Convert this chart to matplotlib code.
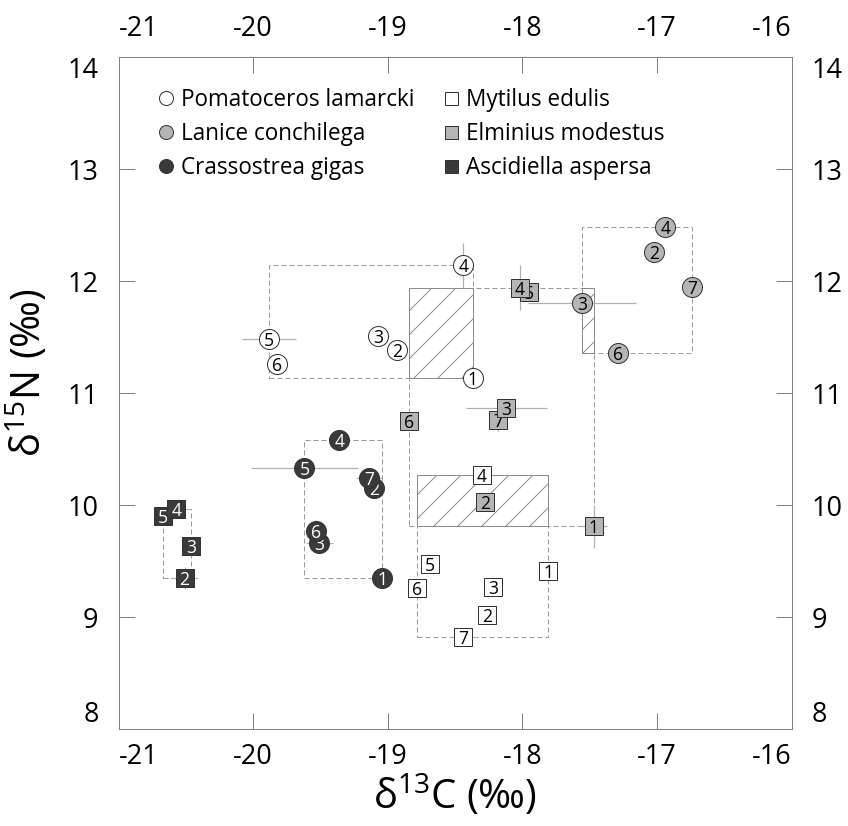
import matplotlib
matplotlib.use("Agg")
import matplotlib.pyplot as plt
from matplotlib.lines import Line2D
from matplotlib.patches import Rectangle

plt.rcParams['font.family'] = ['Open Sans', 'DejaVu Sans']
plt.rcParams['mathtext.fontset'] = 'custom'
plt.rcParams['mathtext.rm'] = 'Open Sans'
plt.rcParams['mathtext.it'] = 'Open Sans'
plt.rcParams['mathtext.default'] = 'regular'
plt.rcParams['hatch.linewidth'] = 1.0
plt.rcParams['hatch.color'] = '#8c8c8c'

# --- data (d13C, d15N means, with error half-widths) ---
pom_id = [1, 2, 3, 4, 5, 6]
pom_x = [-18.37, -18.93, -19.07, -18.44, -19.88, -19.82]
pom_y = [11.13, 11.38, 11.51, 12.14, 11.48, 11.26]
pom_xerr = [0, 0, 0.08, 0, 0.2, 0]
pom_yerr = [0, 0, 0, 0.2, 0, 0]

lan_id = [2, 3, 4, 6, 7]
lan_x = [-17.02, -17.56, -16.94, -17.29, -16.74]
lan_y = [12.26, 11.80, 12.48, 11.36, 11.95]
lan_xerr = [0, 0.4, 0, 0, 0]
lan_yerr = [0, 0, 0, 0, 0]

cra_id = [1, 2, 3, 4, 5, 6, 7]
cra_x = [-19.04, -19.10, -19.51, -19.36, -19.62, -19.53, -19.14]
cra_y = [9.35, 10.15, 9.66, 10.58, 10.33, 9.77, 10.24]
cra_xerr = [0, 0, 0.1, 0, 0.4, 0, 0.1]
cra_yerr = [0, 0, 0, 0, 0, 0.1, 0]

myt_id = [1, 2, 3, 4, 5, 6, 7]
myt_x = [-17.81, -18.26, -18.22, -18.30, -18.69, -18.78, -18.44]
myt_y = [9.41, 9.02, 9.27, 10.27, 9.47, 9.26, 8.82]
myt_xerr = [0, 0, 0, 0.05, 0, 0, 0.1]
myt_yerr = [0, 0, 0, 0, 0, 0, 0]

elm_id = [1, 2, 3, 4, 5, 6, 7]
elm_x = [-17.47, -18.28, -18.12, -18.02, -17.95, -18.84, -18.18]
elm_y = [9.81, 10.03, 10.87, 11.94, 11.90, 10.75, 10.76]
elm_xerr = [0.1, 0.05, 0.3, 0, 0, 0, 0]
elm_yerr = [0.19, 0.05, 0, 0.2, 0, 0, 0.1]

asc_id = [2, 3, 4, 5]
asc_x = [-20.51, -20.46, -20.57, -20.67]
asc_y = [9.35, 9.63, 9.96, 9.90]
asc_xerr = [0.1, 0, 0.1, 0]
asc_yerr = [0.1, 0, 0, 0]

xticks = [-21, -20, -19, -18, -17, -16]
yticks = [8, 9, 10, 11, 12, 13, 14]

# name, ids, x, y, xerr, yerr, marker, face, text colour
species = [
    ("Pomatoceros lamarcki", pom_id, pom_x, pom_y, pom_xerr, pom_yerr, 'o', 'white', 'black'),
    ("Lanice conchilega", lan_id, lan_x, lan_y, lan_xerr, lan_yerr, 'o', '#b5b5b5', 'black'),
    ("Crassostrea gigas", cra_id, cra_x, cra_y, cra_xerr, cra_yerr, 'o', '#3a3a3a', 'white'),
    ("Mytilus edulis", myt_id, myt_x, myt_y, myt_xerr, myt_yerr, 's', 'white', 'black'),
    ("Elminius modestus", elm_id, elm_x, elm_y, elm_xerr, elm_yerr, 's', '#b5b5b5', 'black'),
    ("Ascidiella aspersa", asc_id, asc_x, asc_y, asc_xerr, asc_yerr, 's', '#3a3a3a', 'white'),
]

W, H = 848, 826
fig = plt.figure(figsize=(W / 72, H / 72), dpi=72)
ax = fig.add_axes([118.6 / W, (H - 729) / H, (791.7 - 118.6) / W, (729 - 57) / H])

# range boxes (dashed) for every species
boxes = []
for s in species:
    x0, x1 = min(s[2]), max(s[2])
    y0, y1 = min(s[3]), max(s[3])
    boxes.append((x0, x1, y0, y1))
    ax.add_patch(Rectangle((x0, y0), x1 - x0, y1 - y0, fill=False, ec='#9a9a9a',
                           lw=1, ls=(0, (5, 3)), zorder=1))

# hatched overlap between boxes
for i in range(len(boxes)):
    for j in range(i + 1, len(boxes)):
        a, b = boxes[i], boxes[j]
        ox0, ox1 = max(a[0], b[0]), min(a[1], b[1])
        oy0, oy1 = max(a[2], b[2]), min(a[3], b[3])
        if ox1 > ox0 and oy1 > oy0:
            ax.add_patch(Rectangle((ox0, oy0), ox1 - ox0, oy1 - oy0, fill=False,
                                   ec='#8c8c8c', hatch='/', lw=1, zorder=1.5))

# error bars
for s in species:
    ax.errorbar(s[2], s[3], xerr=s[4], yerr=s[5], fmt='none', ecolor='#b0b0b0',
                elinewidth=1.2, capsize=0, zorder=2)

# numbered markers
for k, (name, ids, xs, ys, xe, ye, mk, fc, tc) in enumerate(species):
    order = range(len(ids)) if mk == 'o' else range(len(ids) - 1, -1, -1)
    for n, i in enumerate(order):
        z = 3 + k + n * 0.1
        ms = 20 if mk == 'o' else 18
        ax.plot(xs[i], ys[i], marker=mk, ms=ms, mfc=fc, mec='#333333', mew=1,
                ls='none', zorder=z)
        ax.text(xs[i], ys[i], str(ids[i]), ha='center', va='center_baseline',
                fontsize=17.5, color=tc, zorder=z + 0.05)

ax.set_xlim(-21, -16)
ax.set_ylim(8, 14)
ax.set_xticks(xticks)
ax.set_yticks(yticks)
ax.set_xticklabels([str(v) for v in xticks])
ax.set_yticklabels([str(v) for v in yticks])
ax.tick_params(direction='in', length=16, width=1, color='#808080', labelsize=27,
               top=True, right=True, labeltop=True, labelright=True)
ax.tick_params(axis='x', pad=14)
ax.tick_params(axis='y', pad=20)
for sp in ax.spines.values():
    sp.set_color('#808080')
    sp.set_linewidth(1)

xt = ax.xaxis.get_major_ticks()
for lab in (xt[0].label1, xt[0].label2):
    lab.set_ha('left')
for lab in (xt[-1].label1, xt[-1].label2):
    lab.set_ha('right')
yt = ax.yaxis.get_major_ticks()
for lab in (yt[0].label1, yt[0].label2):
    lab.set_va('bottom')
for lab in (yt[-1].label1, yt[-1].label2):
    lab.set_va('top')

ax.set_xlabel(r'$\mathrm{\delta}^{13}$C (‰)', fontsize=40, labelpad=2)
ax.set_ylabel(r'$\mathrm{\delta}^{15}$N (‰)', fontsize=40)
ax.yaxis.set_label_coords(-0.1, 0.53)

# legend in two columns
def handle(s):
    return Line2D([], [], marker=s[6], ls='none', mfc=s[7], mec='#333333', mew=1,
                  ms=14 if s[6] == 'o' else 13, label=s[0])

leg_kw = dict(loc='upper left', frameon=False, fontsize=22.5, handlelength=0.7,
              handletextpad=0.3, labelspacing=0.45, borderaxespad=0, borderpad=0.4)
leg1 = ax.legend(handles=[handle(s) for s in species[:3]],
                 bbox_to_anchor=(0.046, 0.968), **leg_kw)
ax.add_artist(leg1)
ax.legend(handles=[handle(s) for s in species[3:]],
          bbox_to_anchor=(0.469, 0.968), **leg_kw)

fig.savefig('out.png', dpi=72)
